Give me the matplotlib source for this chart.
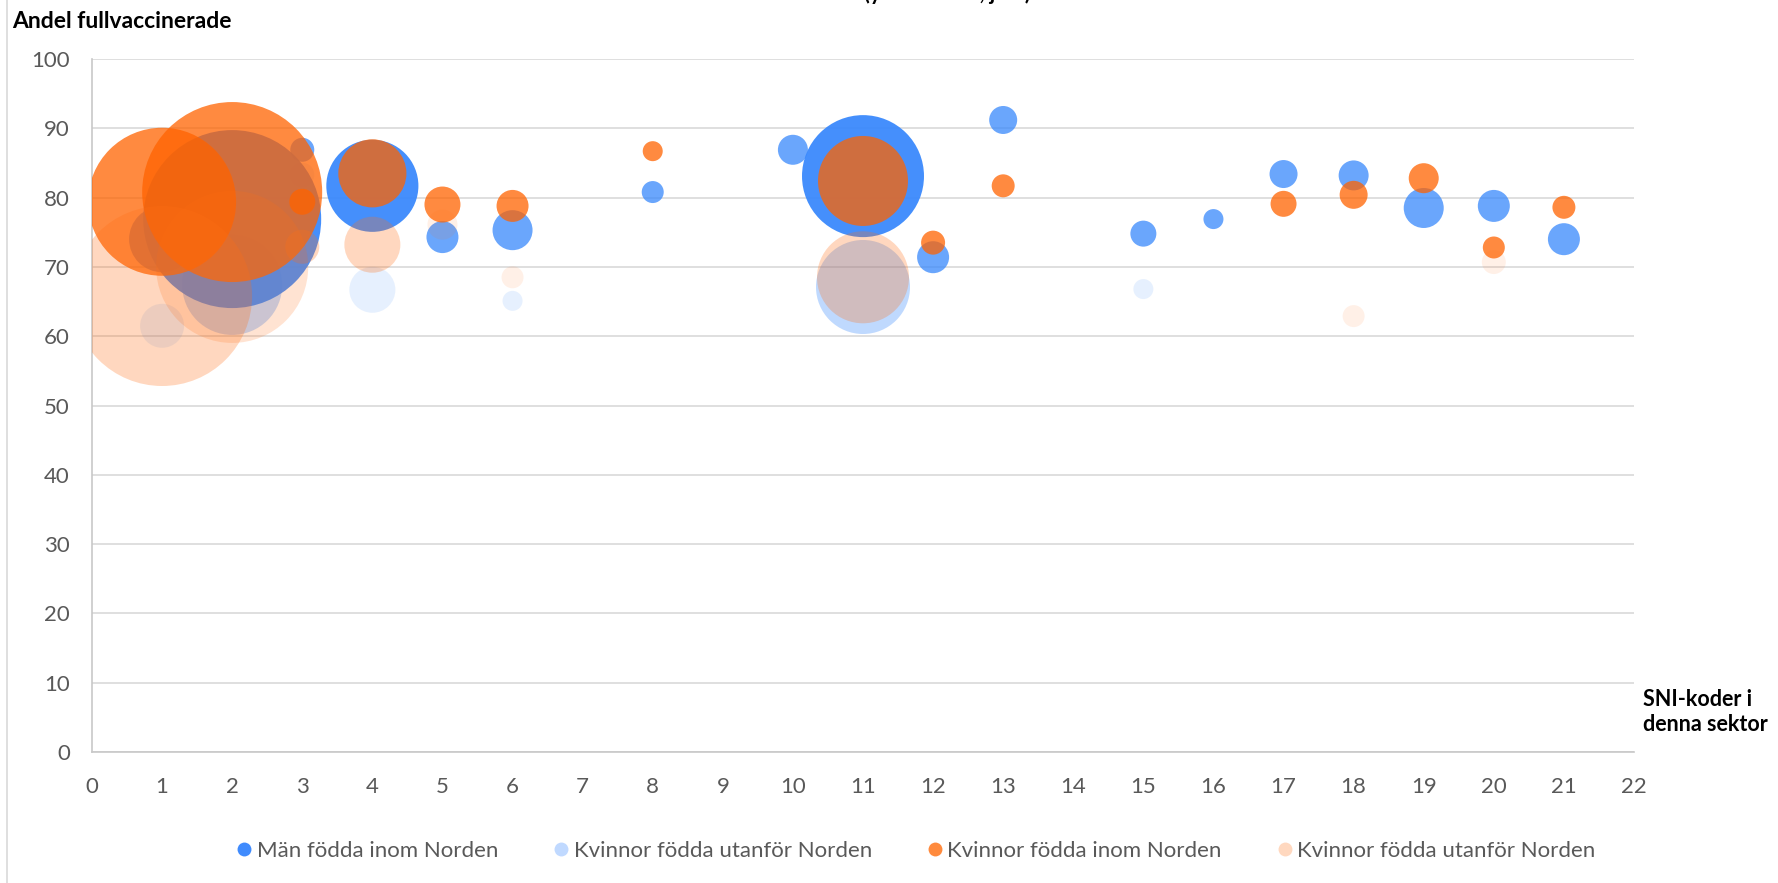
import numpy as np
import matplotlib
matplotlib.use("Agg")
import matplotlib.pyplot as plt
from matplotlib.lines import Line2D
from matplotlib.colors import to_rgb

plt.rcParams['font.family'] = ['Lato', 'DejaVu Sans']

# SNI-kod (x), andel fullvaccinerade (y), storlek (bubbelarea), lager = antal överlappande observationer
man_inom_x = [1, 2, 3, 4, 5, 6, 8, 10, 11, 12, 13, 15, 16, 17, 18, 19, 20, 21]
man_inom_y = [74.0, 76.9, 86.9, 81.7, 74.3, 75.3, 80.8, 86.9, 83.1, 71.4, 91.2, 74.8, 76.9, 83.4, 83.2, 78.5, 78.8, 74.0]
man_inom_n = [1090, 7920, 144, 2120, 256, 400, 121, 225, 3720, 256, 196, 169, 100, 196, 225, 400, 256, 256]
man_inom_lager = [1, 2, 1, 2, 1, 1, 1, 1, 2, 1, 1, 1, 1, 1, 1, 1, 1, 1]

kv_utom_bla_x = [1, 2, 3, 4, 6, 11, 15]
kv_utom_bla_y = [61.5, 67.4, 83.3, 66.7, 65.1, 67.1, 66.8]
kv_utom_bla_n = [484, 2500, 144, 530, 100, 2210, 100]
kv_utom_bla_lager = [1, 3, 1, 1, 1, 3, 1]

kv_inom_x = [1, 2, 3, 4, 5, 6, 8, 11, 12, 13, 17, 18, 19, 20, 21]
kv_inom_y = [79.4, 80.8, 79.4, 83.5, 79.0, 78.8, 86.7, 82.4, 73.5, 81.7, 79.1, 80.4, 82.8, 72.8, 78.6]
kv_inom_n = [5480, 8100, 169, 1160, 324, 256, 100, 2025, 144, 132, 169, 196, 225, 121, 132]
kv_inom_lager = [1] * 15

kv_utom_x = [1, 2, 3, 4, 5, 6, 11, 18, 20]
kv_utom_y = [65.8, 70.0, 72.9, 73.2, 76.1, 68.5, 68.5, 62.9, 70.7]
kv_utom_n = [8100, 5780, 289, 784, 225, 121, 2116, 121, 144]
kv_utom_lager = [3, 2, 3, 3, 1, 1, 3, 1, 1]

x_ticks = list(range(0, 23))
y_ticks = list(range(0, 101, 10))

BLA = '#3888FC'
ORANGE = '#FF6E14'
SKALA = 1.44 ** 2   # px^2 -> pt^2 vid dpi 100


def rita(ax, xs, ys, ns, lager, farg, alfa):
    r, g, b = to_rgb(farg)
    fc = [(r, g, b, 1 - (1 - alfa) ** k) for k in lager]
    ax.scatter(xs, ys, s=np.array(ns) * SKALA, c=fc, linewidths=0, zorder=3)


fig = plt.figure(figsize=(17.78, 8.83), dpi=100)
ax = fig.add_axes([92 / 1778, 1 - 752 / 883, (1634 - 92) / 1778, (752 - 59) / 883])

rita(ax, man_inom_x, man_inom_y, man_inom_n, man_inom_lager, BLA, 0.75)
rita(ax, kv_utom_bla_x, kv_utom_bla_y, kv_utom_bla_n, kv_utom_bla_lager, BLA, 0.12)
rita(ax, kv_inom_x, kv_inom_y, kv_inom_n, kv_inom_lager, '#FF6300', 0.75)
rita(ax, kv_utom_x, kv_utom_y, kv_utom_n, kv_utom_lager, ORANGE, 0.10)

ax.set_xlim(0, 22)
ax.set_ylim(0, 100)
ax.set_xticks(x_ticks)
ax.set_yticks(y_ticks)
ax.tick_params(length=0, labelsize=16, labelcolor='#595959')
ax.tick_params(axis='x', pad=18)
ax.tick_params(axis='y', pad=16)
ax.grid(axis='y', color='#d9d9d9', lw=1.2)
ax.set_axisbelow(True)
for s in ['top', 'right']:
    ax.spines[s].set_visible(False)
for s in ['left', 'bottom']:
    ax.spines[s].set_color('#c8c8c8')
    ax.spines[s].set_linewidth(1.2)

fig.text(12 / 1778, 1 - 21 / 883, 'Andel fullvaccinerade', fontsize=16.5, fontweight='bold', va='center')
fig.text(1643 / 1778, 1 - 712 / 883, 'SNI-koder i\ndenna sektor', fontsize=15.5, fontweight='bold',
         va='center', linespacing=1.25)
# rubriken ligger till största delen ovanför bildkanten
fig.text(947 / 1778, 1.0, '(yrkesaktiva, juni)', fontsize=15.5, fontweight='bold',
         ha='center', va='baseline')

# ramlinje till vänster
fig.add_artist(Line2D([7 / 1778, 7 / 1778], [0, 1], color='#d9d9d9', lw=1.2))

handles = [Line2D([], [], marker='o', ls='', ms=10, mec='none', mfc=c) for c in
           ['#408BFD', '#C0D9FF', '#FF8A3D', '#FFD8BF']]
labels = ['Män födda inom Norden', 'Kvinnor födda utanför Norden', 'Kvinnor födda inom Norden',
          'Kvinnor födda utanför Norden']
leg = fig.legend(handles, labels, loc='center', bbox_to_anchor=(915 / 1778, 1 - 851 / 883), ncol=4,
                 frameon=False, fontsize=16, handletextpad=0.1, columnspacing=2.4, handlelength=0.9)
for t in leg.get_texts():
    t.set_color('#595959')

fig.savefig('out.png', dpi=100)
